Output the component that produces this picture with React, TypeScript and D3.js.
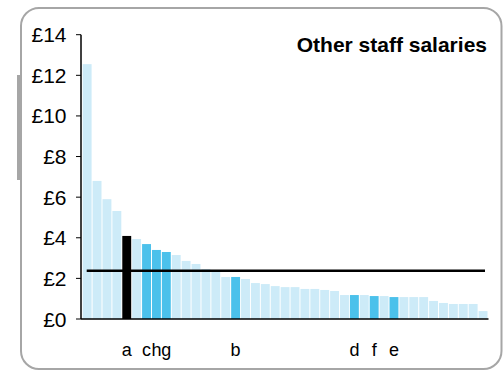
import React from "react";
import * as d3 from "d3";

const categories: string[] = [
  "", "", "", "", "a", "", "c", "h", "g", "", "", "", "", "", "", "b", "", "", "", "",
  "", "", "", "", "", "", "", "d", "", "f", "", "e", "", "", "", "", "", "", "", "", "",
];
const values: number[] = [
  12.55, 6.8, 5.9, 5.32, 4.09, 3.94, 3.69, 3.4, 3.3, 3.15, 2.86, 2.71, 2.46, 2.33, 2.07, 2.07,
  1.97, 1.77, 1.72, 1.62, 1.57, 1.57, 1.48, 1.48, 1.43, 1.38, 1.18, 1.18, 1.18, 1.13, 1.13,
  1.08, 1.08, 1.08, 1.08, 0.89, 0.79, 0.74, 0.74, 0.74, 0.39,
];
// 0 = other, 1 = highlighted, 2 = selected
const kinds: number[] = [
  0, 0, 0, 0, 2, 0, 1, 1, 1, 0, 0, 0, 0, 0, 0, 1, 0, 0, 0, 0,
  0, 0, 0, 0, 0, 0, 0, 1, 0, 1, 0, 1, 0, 0, 0, 0, 0, 0, 0, 0, 0,
];
const yTicks: number[] = [0, 2, 4, 6, 8, 10, 12, 14];
const average = 2.38;
const title = "Other staff salaries";

const colors = ["#cdebf8", "#4bc1eb", "#000000"];

export default function App() {
  const W = 503;
  const H = 371;
  const ids = values.map((_, i) => String(i));
  const x = d3.scaleBand<string>().domain(ids).range([82.2, 488]).paddingInner(0.1).paddingOuter(0.05);
  const y = d3.scaleLinear().domain([0, 14]).range([319, 34.7]);
  const font = "'Liberation Sans', Arial, sans-serif";

  return (
    <svg width={W} height={H} style={{ position: "absolute", left: 0, top: 0 }} fontFamily={font}>
      <rect x={0} y={0} width={W} height={H} fill="#ffffff" />
      <rect x={21} y={8} width={480.5} height={361} rx={18} ry={18} fill="none" stroke="#a6a6a6" strokeWidth={2} />
      <rect x={17} y={75} width={3} height={105} fill="#a6a6a6" />
      {values.map((v, i) => (
        <rect
          key={i}
          x={x(String(i))}
          y={y(v)}
          width={x.bandwidth()}
          height={y(0) - y(v)}
          fill={colors[kinds[i]]}
        />
      ))}
      <line x1={86.7} x2={485} y1={y(average)} y2={y(average)} stroke="#000" strokeWidth={2.5} />
      <line x1={81} x2={488.5} y1={y(0)} y2={y(0)} stroke="#000" strokeWidth={1.5} />
      <line x1={81} x2={81} y1={y(14)} y2={y(0)} stroke="#000" strokeWidth={1.5} />
      {yTicks.map((t) => (
        <g key={t}>
          <line x1={76} x2={81} y1={y(t)} y2={y(t)} stroke="#000" strokeWidth={1} />
          <text x={66.5} y={y(t) + 7.5} textAnchor="end" fontSize={21} fill="#000">
            {"£" + t}
          </text>
        </g>
      ))}
      {categories.map((c, i) =>
        c ? (
          <text key={i} x={(x(String(i)) as number) + x.bandwidth() / 2} y={356} textAnchor="middle" fontSize={18} fill="#000">
            {c}
          </text>
        ) : null
      )}
      <text x={487} y={52} textAnchor="end" fontSize={21} fontWeight="bold" fill="#000">
        {title}
      </text>
    </svg>
  );
}
